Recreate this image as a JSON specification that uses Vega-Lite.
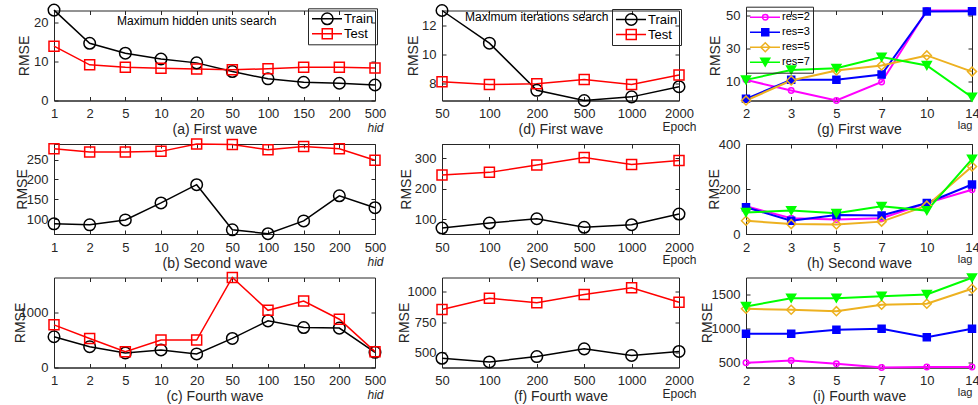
{
"$schema": "https://vega.github.io/schema/vega-lite/v6.json",
"background": "white",
"padding": {"left": 12, "top": 0.5, "right": 0, "bottom": 0},
"columns": 3,
"spacing": {"row": 43.5, "column": 67},
"bounds": "flush",
"resolve": {"scale": {"color": "independent", "stroke": "independent", "shape": "independent", "size": "independent", "fill": "independent"}, "legend": {"color": "independent", "stroke": "independent"}},
"config": {
  "font": "Liberation Sans",
  "view": {"stroke": "#262626", "strokeWidth": 1},
  "axis": {"grid": false, "domainColor": "#262626", "tickColor": "#262626", "labelColor": "#262626", "titleColor": "#262626", "labelFontSize": 13, "titleFontSize": 14, "titleFontWeight": "normal", "labelFont": "Liberation Sans", "titleFont": "Liberation Sans", "tickSize": -4, "labelFlush": false, "labelOverlap": false},
  "axisX": {"labelPadding": 11, "titlePadding": 2, "labelAngle": 0},
  "axisY": {"labelPadding": 10, "titleAngle": 270, "titleBaseline": "alphabetic", "format": "d"},
  "legend": {"orient": "none", "padding": 3, "labelOffset": 1, "labelFont": "Liberation Sans", "labelFontSize": 13, "labelColor": "#000000", "clipHeight": 15, "rowPadding": 0},
  "line": {"strokeWidth": 1.5},
  "point": {"strokeWidth": 1.5, "filled": false, "opacity": 1}
},
"datasets": {
  "a": [
    {"s":"Train","x":1,"y":23.3},{"s":"Train","x":2,"y":14.75},{"s":"Train","x":5,"y":12.2},{"s":"Train","x":10,"y":10.7},{"s":"Train","x":20,"y":9.7},{"s":"Train","x":50,"y":7.46},{"s":"Train","x":100,"y":5.58},{"s":"Train","x":150,"y":4.7},{"s":"Train","x":200,"y":4.45},{"s":"Train","x":500,"y":4.0},
    {"s":"Test","x":1,"y":14.0},{"s":"Test","x":2,"y":9.2},{"s":"Test","x":5,"y":8.6},{"s":"Test","x":10,"y":8.3},{"s":"Test","x":20,"y":8.15},{"s":"Test","x":50,"y":7.9},{"s":"Test","x":100,"y":8.2},{"s":"Test","x":150,"y":8.6},{"s":"Test","x":200,"y":8.6},{"s":"Test","x":500,"y":8.4}
  ],
  "b": [
    {"s":"Train","x":1,"y":88.5},{"s":"Train","x":2,"y":86},{"s":"Train","x":5,"y":98.4},{"s":"Train","x":10,"y":141},{"s":"Train","x":20,"y":186.8},{"s":"Train","x":50,"y":73.6},{"s":"Train","x":100,"y":63.8},{"s":"Train","x":150,"y":95.9},{"s":"Train","x":200,"y":159},{"s":"Train","x":500,"y":129},
    {"s":"Test","x":1,"y":277},{"s":"Test","x":2,"y":269},{"s":"Test","x":5,"y":269},{"s":"Test","x":10,"y":270.5},{"s":"Test","x":20,"y":289},{"s":"Test","x":50,"y":287.6},{"s":"Test","x":100,"y":274.6},{"s":"Test","x":150,"y":282.7},{"s":"Test","x":200,"y":277},{"s":"Test","x":500,"y":248.3}
  ],
  "c": [
    {"s":"Train","x":1,"y":564},{"s":"Train","x":2,"y":382},{"s":"Train","x":5,"y":267},{"s":"Train","x":10,"y":321},{"s":"Train","x":20,"y":249},{"s":"Train","x":50,"y":533},{"s":"Train","x":100,"y":855},{"s":"Train","x":150,"y":733},{"s":"Train","x":200,"y":722},{"s":"Train","x":500,"y":278},
    {"s":"Test","x":1,"y":782},{"s":"Test","x":2,"y":533},{"s":"Test","x":5,"y":291},{"s":"Test","x":10,"y":503},{"s":"Test","x":20,"y":503},{"s":"Test","x":50,"y":1650},{"s":"Test","x":100,"y":1048},{"s":"Test","x":150,"y":1218},{"s":"Test","x":200,"y":885},{"s":"Test","x":500,"y":291}
  ],
  "d": [
    {"s":"Train","x":50,"y":13.05},{"s":"Train","x":100,"y":10.8},{"s":"Train","x":200,"y":7.55},{"s":"Train","x":500,"y":6.85},{"s":"Train","x":1000,"y":7.1},{"s":"Train","x":2000,"y":7.8},
    {"s":"Test","x":50,"y":8.15},{"s":"Test","x":100,"y":7.95},{"s":"Test","x":200,"y":8.0},{"s":"Test","x":500,"y":8.3},{"s":"Test","x":1000,"y":7.95},{"s":"Test","x":2000,"y":8.6}
  ],
  "e": [
    {"s":"Train","x":50,"y":70.5},{"s":"Train","x":100,"y":86.9},{"s":"Train","x":200,"y":101},{"s":"Train","x":500,"y":73},{"s":"Train","x":1000,"y":81.5},{"s":"Train","x":2000,"y":116.4},
    {"s":"Test","x":50,"y":244},{"s":"Test","x":100,"y":253},{"s":"Test","x":200,"y":277},{"s":"Test","x":500,"y":302},{"s":"Test","x":1000,"y":279},{"s":"Test","x":2000,"y":292}
  ],
  "f": [
    {"s":"Train","x":50,"y":455},{"s":"Train","x":100,"y":425},{"s":"Train","x":200,"y":469},{"s":"Train","x":500,"y":532},{"s":"Train","x":1000,"y":478},{"s":"Train","x":2000,"y":511},
    {"s":"Test","x":50,"y":853},{"s":"Test","x":100,"y":945},{"s":"Test","x":200,"y":908},{"s":"Test","x":500,"y":975},{"s":"Test","x":1000,"y":1030},{"s":"Test","x":2000,"y":912}
  ],
  "g": [
    {"s":"res=2","x":2,"y":11},{"s":"res=2","x":3,"y":4.5},{"s":"res=2","x":5,"y":-1.5},{"s":"res=2","x":7,"y":9.7},{"s":"res=2","x":10,"y":53},{"s":"res=2","x":14,"y":53},
    {"s":"res=3","x":2,"y":-0.5},{"s":"res=3","x":3,"y":11},{"s":"res=3","x":5,"y":11},{"s":"res=3","x":7,"y":14.2},{"s":"res=3","x":10,"y":52.4},{"s":"res=3","x":14,"y":52.5},
    {"s":"res=5","x":2,"y":-1.5},{"s":"res=5","x":3,"y":10.6},{"s":"res=5","x":5,"y":16.7},{"s":"res=5","x":7,"y":19.7},{"s":"res=5","x":10,"y":25.8},{"s":"res=5","x":14,"y":16},
    {"s":"res=7","x":2,"y":11},{"s":"res=7","x":3,"y":17},{"s":"res=7","x":5,"y":18},{"s":"res=7","x":7,"y":24.8},{"s":"res=7","x":10,"y":19.7},{"s":"res=7","x":14,"y":0.5}
  ],
  "h": [
    {"s":"res=2","x":2,"y":123},{"s":"res=2","x":3,"y":70},{"s":"res=2","x":5,"y":64},{"s":"res=2","x":7,"y":70},{"s":"res=2","x":10,"y":138},{"s":"res=2","x":14,"y":197},
    {"s":"res=3","x":2,"y":119},{"s":"res=3","x":3,"y":59},{"s":"res=3","x":5,"y":84},{"s":"res=3","x":7,"y":82},{"s":"res=3","x":10,"y":138},{"s":"res=3","x":14,"y":220},
    {"s":"res=5","x":2,"y":59},{"s":"res=5","x":3,"y":44},{"s":"res=5","x":5,"y":42},{"s":"res=5","x":7,"y":55},{"s":"res=5","x":10,"y":126},{"s":"res=5","x":14,"y":300},
    {"s":"res=7","x":2,"y":96},{"s":"res=7","x":3,"y":104},{"s":"res=7","x":5,"y":92},{"s":"res=7","x":7,"y":123},{"s":"res=7","x":10,"y":104},{"s":"res=7","x":14,"y":333}
  ],
  "i": [
    {"s":"res=2","x":2,"y":500},{"s":"res=2","x":3,"y":534},{"s":"res=2","x":5,"y":485},{"s":"res=2","x":7,"y":431},{"s":"res=2","x":10,"y":440},{"s":"res=2","x":14,"y":440},
    {"s":"res=3","x":2,"y":926},{"s":"res=3","x":3,"y":926},{"s":"res=3","x":5,"y":985},{"s":"res=3","x":7,"y":1000},{"s":"res=3","x":10,"y":877},{"s":"res=3","x":14,"y":1000},
    {"s":"res=5","x":2,"y":1294},{"s":"res=5","x":3,"y":1279},{"s":"res=5","x":5,"y":1259},{"s":"res=5","x":7,"y":1353},{"s":"res=5","x":10,"y":1368},{"s":"res=5","x":14,"y":1588},
    {"s":"res=7","x":2,"y":1328},{"s":"res=7","x":3,"y":1450},{"s":"res=7","x":5,"y":1450},{"s":"res=7","x":7,"y":1480},{"s":"res=7","x":10,"y":1505},{"s":"res=7","x":14,"y":1750}
  ]
},
"concat": [
{
 "width": 321, "height": 90, "data": {"name": "a"},
 "resolve": {"axis": {"x": "independent", "y": "independent"}},
 "layer": [
  {"mark": {"type": "line"},
   "encoding": {
    "x": {"field": "x", "type": "ordinal", "scale": {"type": "point", "padding": 0, "domain": [1,2,5,10,20,50,100,150,200,500]}, "axis": {"title": "(a) First wave"}},
    "y": {"field": "y", "type": "quantitative", "scale": {"domain": [0, 23.2], "nice": false, "zero": false}, "axis": {"title": "RMSE", "titleX": -26, "values": [0, 10, 20]}},
    "stroke": {"field": "s", "type": "nominal", "scale": {"domain": ["Train", "Test"], "range": ["#000000", "#ff0000"]},
      "legend": {"title": null, "legendX": 254, "legendY": -2.2, "symbolType": "stroke", "symbolSize": 900, "symbolStrokeWidth": 1.5, "strokeColor": "#262626", "fillColor": "transparent"}}
   }},
  {"mark": {"type": "point"},
   "encoding": {
    "x": {"field": "x", "type": "ordinal", "scale": {"type": "point", "padding": 0, "domain": [1,2,5,10,20,50,100,150,200,500]}, "axis": {"title": "hid", "orient": "bottom", "labels": false, "ticks": false, "domain": false, "titleAnchor": "end", "titleAlign": "center", "titleFontStyle": "italic", "titleFontSize": 12, "titlePadding": 22}},
    "y": {"field": "y", "type": "quantitative", "scale": {"domain": [0, 23.2], "nice": false, "zero": false}, "axis": {"title": null, "orient": "right", "labels": false, "domain": false, "values": [0, 10, 20]}},
    "color": {"field": "s", "type": "nominal", "sort": "descending", "scale": {"range": ["#000000", "#ff0000"]},
      "legend": {"title": null, "legendX": 254, "legendY": -2.2, "symbolSize": 100, "symbolOffset": 9.25, "symbolStrokeWidth": 1.5, "strokeColor": "transparent", "fillColor": "transparent", "labelExpr": "''"}},
    "shape": {"field": "s", "type": "nominal", "sort": "descending", "scale": {"range": ["circle", "square"]}, "legend": null},
    "size": {"field": "s", "type": "nominal", "sort": "descending", "scale": {"type": "ordinal", "range": [133, 100]}, "legend": null}
   }},
  {"data": {"values": [{}]},
   "mark": {"type": "text", "fontSize": 12, "fill": "#000000", "align": "center", "baseline": "middle"},
   "encoding": {
    "x": {"datum": 20, "type": "ordinal", "scale": {"type": "point", "padding": 0, "domain": [1,2,5,10,20,50,100,150,200,500]}, "axis": {"orient": "top", "title": null, "labels": false, "domain": false}},
    "y": {"datum": 20.4, "type": "quantitative", "scale": {"domain": [0, 23.2], "nice": false, "zero": false}, "axis": null},
    "text": {"value": "Maximum hidden units search"}
   }}
 ]
},
{
 "width": 237, "height": 90, "data": {"name": "d"},
 "resolve": {"axis": {"x": "independent", "y": "independent"}},
 "layer": [
  {"mark": {"type": "line"},
   "encoding": {
    "x": {"field": "x", "type": "ordinal", "scale": {"type": "point", "padding": 0, "domain": [50,100,200,500,1000,2000]}, "axis": {"title": "(d) First wave"}},
    "y": {"field": "y", "type": "quantitative", "scale": {"domain": [6.85, 13.05], "nice": false, "zero": false}, "axis": {"title": "RMSE", "titleX": -25, "values": [8, 10, 12]}},
    "stroke": {"field": "s", "type": "nominal", "scale": {"domain": ["Train", "Test"], "range": ["#000000", "#ff0000"]},
      "legend": {"title": null, "legendX": 170, "legendY": -1.5, "symbolType": "stroke", "symbolSize": 900, "symbolStrokeWidth": 1.5, "strokeColor": "#262626", "fillColor": "transparent"}}
   }},
  {"mark": {"type": "point"},
   "encoding": {
    "x": {"field": "x", "type": "ordinal", "scale": {"type": "point", "padding": 0, "domain": [50,100,200,500,1000,2000]}, "axis": {"title": "Epoch", "orient": "bottom", "labels": false, "ticks": false, "domain": false, "titleAnchor": "end", "titleAlign": "center", "titleFontSize": 12, "titlePadding": 20.5}},
    "y": {"field": "y", "type": "quantitative", "scale": {"domain": [6.85, 13.05], "nice": false, "zero": false}, "axis": {"title": null, "orient": "right", "labels": false, "domain": false, "values": [8, 10, 12]}},
    "color": {"field": "s", "type": "nominal", "sort": "descending", "scale": {"range": ["#000000", "#ff0000"]},
      "legend": {"title": null, "legendX": 170, "legendY": -1.5, "symbolSize": 100, "symbolOffset": 9.25, "symbolStrokeWidth": 1.5, "strokeColor": "transparent", "fillColor": "transparent", "labelExpr": "''"}},
    "shape": {"field": "s", "type": "nominal", "sort": "descending", "scale": {"range": ["circle", "square"]}, "legend": null},
    "size": {"field": "s", "type": "nominal", "sort": "descending", "scale": {"type": "ordinal", "range": [133, 100]}, "legend": null}
   }},
  {"data": {"values": [{}]},
   "mark": {"type": "text", "fontSize": 12, "fill": "#000000", "align": "center", "baseline": "middle"},
   "encoding": {
    "x": {"datum": 200, "type": "ordinal", "scale": {"type": "point", "padding": 0, "domain": [50,100,200,500,1000,2000]}, "axis": {"orient": "top", "title": null, "labels": false, "domain": false}},
    "y": {"datum": 12.59, "type": "quantitative", "scale": {"domain": [6.85, 13.05], "nice": false, "zero": false}, "axis": null},
    "text": {"value": "Maximum iterations search"}
   }}
 ]
},
{
 "width": 226, "height": 90, "data": {"name": "g"},
 "resolve": {"axis": {"x": "independent", "y": "independent"}},
 "layer": [
  {"mark": {"type": "line", "strokeWidth": 2},
   "encoding": {
    "x": {"field": "x", "type": "ordinal", "scale": {"type": "point", "padding": 0, "domain": [2,3,5,7,10,14]}, "axis": {"title": "(g) First wave"}},
    "y": {"field": "y", "type": "quantitative", "scale": {"domain": [-1.5, 53], "nice": false, "zero": false}, "axis": {"title": "RMSE", "titleX": -27, "values": [10, 30, 50]}},
    "stroke": {"field": "s", "type": "nominal", "scale": {"domain": ["res=2", "res=3", "res=5", "res=7"], "range": ["#ff00ff", "#0000ff", "#edb120", "#00ff00"]},
      "legend": {"title": null, "legendX": 0, "legendY": -3.8, "symbolType": "stroke", "symbolSize": 900, "symbolStrokeWidth": 2, "strokeColor": "#262626", "fillColor": "transparent", "labelFontSize": 11}}
   }},
  {"mark": {"type": "point"},
   "encoding": {
    "x": {"field": "x", "type": "ordinal", "scale": {"type": "point", "padding": 0, "domain": [2,3,5,7,10,14]}, "axis": {"title": "lag", "orient": "bottom", "labels": false, "ticks": false, "domain": false, "titleAnchor": "end", "titleAlign": "right", "titleFontSize": 11, "titlePadding": 19}},
    "y": {"field": "y", "type": "quantitative", "scale": {"domain": [-1.5, 53], "nice": false, "zero": false}, "axis": {"title": null, "orient": "right", "labels": false, "domain": false, "values": [10, 30, 50]}},
    "color": {"field": "s", "type": "nominal", "scale": {"range": ["#ff00ff", "#0000ff", "#edb120", "#00ff00"]},
      "legend": {"title": null, "legendX": 0, "legendY": -3.8, "symbolSize": 50, "symbolOffset": 10.75, "symbolStrokeWidth": 1.5, "strokeColor": "transparent", "fillColor": "transparent", "labelExpr": "''", "labelFontSize": 11}},
    "shape": {"field": "s", "type": "nominal", "scale": {"range": ["circle", "square", "diamond", "triangle-down"]}, "legend": null},
    "size": {"field": "s", "type": "nominal", "scale": {"type": "ordinal", "range": [30, 49, 81, 81]}, "legend": null},
    "fill": {"field": "s", "type": "nominal", "scale": {"range": ["transparent", "#0000ff", "transparent", "#00ff00"]}, "legend": null}
   }},
  {"mark": {"type": "point", "opacity": 0},
   "encoding": {
    "x": {"field": "x", "type": "ordinal", "scale": {"type": "point", "padding": 0, "domain": [2,3,5,7,10,14]}, "axis": {"orient": "top", "title": null, "labels": false, "domain": false}},
    "y": {"field": "y", "type": "quantitative", "scale": {"domain": [-1.5, 53], "nice": false, "zero": false}, "axis": null}
   }}
 ]
},
{
 "width": 321, "height": 90, "data": {"name": "b"},
 "resolve": {"axis": {"x": "independent", "y": "independent"}},
 "layer": [
  {"mark": {"type": "line"},
   "encoding": {
    "x": {"field": "x", "type": "ordinal", "scale": {"type": "point", "padding": 0, "domain": [1,2,5,10,20,50,100,150,200,500]}, "axis": {"title": "(b) Second wave"}},
    "y": {"field": "y", "type": "quantitative", "scale": {"domain": [63, 289], "nice": false, "zero": false}, "axis": {"title": "RMSE", "titleX": -28, "values": [100, 150, 200, 250]}},
    "color": {"field": "s", "type": "nominal", "scale": {"domain": ["Train", "Test"], "range": ["#000000", "#ff0000"]}, "legend": null}
   }},
  {"mark": {"type": "point"},
   "encoding": {
    "x": {"field": "x", "type": "ordinal", "scale": {"type": "point", "padding": 0, "domain": [1,2,5,10,20,50,100,150,200,500]}, "axis": {"title": "hid", "orient": "bottom", "labels": false, "ticks": false, "domain": false, "titleAnchor": "end", "titleAlign": "center", "titleFontStyle": "italic", "titleFontSize": 12, "titlePadding": 22}},
    "y": {"field": "y", "type": "quantitative", "scale": {"domain": [63, 289], "nice": false, "zero": false}, "axis": {"title": null, "orient": "right", "labels": false, "domain": false, "values": [100, 150, 200, 250]}},
    "color": {"field": "s", "type": "nominal", "scale": {"domain": ["Train", "Test"], "range": ["#000000", "#ff0000"]}, "legend": null},
    "shape": {"field": "s", "type": "nominal", "scale": {"range": ["square", "circle"]}, "legend": null},
    "size": {"field": "s", "type": "nominal", "scale": {"type": "ordinal", "range": [100, 133]}, "legend": null}
   }},
  {"mark": {"type": "point", "opacity": 0},
   "encoding": {
    "x": {"field": "x", "type": "ordinal", "scale": {"type": "point", "padding": 0, "domain": [1,2,5,10,20,50,100,150,200,500]}, "axis": {"orient": "top", "title": null, "labels": false, "domain": false}},
    "y": {"field": "y", "type": "quantitative", "scale": {"domain": [63, 289], "nice": false, "zero": false}, "axis": null}
   }}
 ]
},
{
 "width": 237, "height": 90, "data": {"name": "e"},
 "resolve": {"axis": {"x": "independent", "y": "independent"}},
 "layer": [
  {"mark": {"type": "line"},
   "encoding": {
    "x": {"field": "x", "type": "ordinal", "scale": {"type": "point", "padding": 0, "domain": [50,100,200,500,1000,2000]}, "axis": {"title": "(e) Second wave"}},
    "y": {"field": "y", "type": "quantitative", "scale": {"domain": [51, 346], "nice": false, "zero": false}, "axis": {"title": "RMSE", "titleX": -32, "values": [100, 200, 300]}},
    "color": {"field": "s", "type": "nominal", "scale": {"domain": ["Train", "Test"], "range": ["#000000", "#ff0000"]}, "legend": null}
   }},
  {"mark": {"type": "point"},
   "encoding": {
    "x": {"field": "x", "type": "ordinal", "scale": {"type": "point", "padding": 0, "domain": [50,100,200,500,1000,2000]}, "axis": {"title": "Epoch", "orient": "bottom", "labels": false, "ticks": false, "domain": false, "titleAnchor": "end", "titleAlign": "center", "titleFontSize": 12, "titlePadding": 20.5}},
    "y": {"field": "y", "type": "quantitative", "scale": {"domain": [51, 346], "nice": false, "zero": false}, "axis": {"title": null, "orient": "right", "labels": false, "domain": false, "values": [100, 200, 300]}},
    "color": {"field": "s", "type": "nominal", "scale": {"domain": ["Train", "Test"], "range": ["#000000", "#ff0000"]}, "legend": null},
    "shape": {"field": "s", "type": "nominal", "scale": {"range": ["square", "circle"]}, "legend": null},
    "size": {"field": "s", "type": "nominal", "scale": {"type": "ordinal", "range": [100, 133]}, "legend": null}
   }},
  {"mark": {"type": "point", "opacity": 0},
   "encoding": {
    "x": {"field": "x", "type": "ordinal", "scale": {"type": "point", "padding": 0, "domain": [50,100,200,500,1000,2000]}, "axis": {"orient": "top", "title": null, "labels": false, "domain": false}},
    "y": {"field": "y", "type": "quantitative", "scale": {"domain": [51, 346], "nice": false, "zero": false}, "axis": null}
   }}
 ]
},
{
 "width": 226, "height": 90, "data": {"name": "h"},
 "resolve": {"axis": {"x": "independent", "y": "independent"}},
 "layer": [
  {"mark": {"type": "line", "strokeWidth": 2},
   "encoding": {
    "x": {"field": "x", "type": "ordinal", "scale": {"type": "point", "padding": 0, "domain": [2,3,5,7,10,14]}, "axis": {"title": "(h) Second wave"}},
    "y": {"field": "y", "type": "quantitative", "scale": {"domain": [0, 400], "nice": false, "zero": false}, "axis": {"title": "RMSE", "titleX": -28, "values": [0, 200, 400]}},
    "color": {"field": "s", "type": "nominal", "scale": {"domain": ["res=2", "res=3", "res=5", "res=7"], "range": ["#ff00ff", "#0000ff", "#edb120", "#00ff00"]}, "legend": null}
   }},
  {"mark": {"type": "point"},
   "encoding": {
    "x": {"field": "x", "type": "ordinal", "scale": {"type": "point", "padding": 0, "domain": [2,3,5,7,10,14]}, "axis": {"title": "lag", "orient": "bottom", "labels": false, "ticks": false, "domain": false, "titleAnchor": "end", "titleAlign": "right", "titleFontSize": 11, "titlePadding": 19}},
    "y": {"field": "y", "type": "quantitative", "scale": {"domain": [0, 400], "nice": false, "zero": false}, "axis": {"title": null, "orient": "right", "labels": false, "domain": false, "values": [0, 200, 400]}},
    "color": {"field": "s", "type": "nominal", "scale": {"domain": ["res=2", "res=3", "res=5", "res=7"], "range": ["#ff00ff", "#0000ff", "#edb120", "#00ff00"]}, "legend": null},
    "shape": {"field": "s", "type": "nominal", "scale": {"range": ["circle", "square", "diamond", "triangle-down"]}, "legend": null},
    "size": {"field": "s", "type": "nominal", "scale": {"type": "ordinal", "range": [30, 49, 81, 81]}, "legend": null},
    "fill": {"field": "s", "type": "nominal", "scale": {"range": ["transparent", "#0000ff", "transparent", "#00ff00"]}, "legend": null}
   }},
  {"mark": {"type": "point", "opacity": 0},
   "encoding": {
    "x": {"field": "x", "type": "ordinal", "scale": {"type": "point", "padding": 0, "domain": [2,3,5,7,10,14]}, "axis": {"orient": "top", "title": null, "labels": false, "domain": false}},
    "y": {"field": "y", "type": "quantitative", "scale": {"domain": [0, 400], "nice": false, "zero": false}, "axis": null}
   }}
 ]
},
{
 "width": 321, "height": 90, "data": {"name": "c"},
 "resolve": {"axis": {"x": "independent", "y": "independent"}},
 "layer": [
  {"mark": {"type": "line"},
   "encoding": {
    "x": {"field": "x", "type": "ordinal", "scale": {"type": "point", "padding": 0, "domain": [1,2,5,10,20,50,100,150,200,500]}, "axis": {"title": "(c) Fourth wave"}},
    "y": {"field": "y", "type": "quantitative", "scale": {"domain": [0, 1650], "nice": false, "zero": false}, "axis": {"title": "RMSE", "titleX": -30, "values": [0, 1000]}},
    "color": {"field": "s", "type": "nominal", "scale": {"domain": ["Train", "Test"], "range": ["#000000", "#ff0000"]}, "legend": null}
   }},
  {"mark": {"type": "point"},
   "encoding": {
    "x": {"field": "x", "type": "ordinal", "scale": {"type": "point", "padding": 0, "domain": [1,2,5,10,20,50,100,150,200,500]}, "axis": {"title": "hid", "orient": "bottom", "labels": false, "ticks": false, "domain": false, "titleAnchor": "end", "titleAlign": "center", "titleFontStyle": "italic", "titleFontSize": 12, "titlePadding": 22}},
    "y": {"field": "y", "type": "quantitative", "scale": {"domain": [0, 1650], "nice": false, "zero": false}, "axis": {"title": null, "orient": "right", "labels": false, "domain": false, "values": [0, 1000]}},
    "color": {"field": "s", "type": "nominal", "scale": {"domain": ["Train", "Test"], "range": ["#000000", "#ff0000"]}, "legend": null},
    "shape": {"field": "s", "type": "nominal", "scale": {"range": ["square", "circle"]}, "legend": null},
    "size": {"field": "s", "type": "nominal", "scale": {"type": "ordinal", "range": [100, 133]}, "legend": null}
   }},
  {"mark": {"type": "point", "opacity": 0},
   "encoding": {
    "x": {"field": "x", "type": "ordinal", "scale": {"type": "point", "padding": 0, "domain": [1,2,5,10,20,50,100,150,200,500]}, "axis": {"orient": "top", "title": null, "labels": false, "domain": false}},
    "y": {"field": "y", "type": "quantitative", "scale": {"domain": [0, 1650], "nice": false, "zero": false}, "axis": null}
   }}
 ]
},
{
 "width": 237, "height": 90, "data": {"name": "f"},
 "resolve": {"axis": {"x": "independent", "y": "independent"}},
 "layer": [
  {"mark": {"type": "line"},
   "encoding": {
    "x": {"field": "x", "type": "ordinal", "scale": {"type": "point", "padding": 0, "domain": [50,100,200,500,1000,2000]}, "axis": {"title": "(f) Fourth wave"}},
    "y": {"field": "y", "type": "quantitative", "scale": {"domain": [380, 1114], "nice": false, "zero": false}, "axis": {"title": "RMSE", "titleX": -34, "values": [500, 750, 1000]}},
    "color": {"field": "s", "type": "nominal", "scale": {"domain": ["Train", "Test"], "range": ["#000000", "#ff0000"]}, "legend": null}
   }},
  {"mark": {"type": "point"},
   "encoding": {
    "x": {"field": "x", "type": "ordinal", "scale": {"type": "point", "padding": 0, "domain": [50,100,200,500,1000,2000]}, "axis": {"title": "Epoch", "orient": "bottom", "labels": false, "ticks": false, "domain": false, "titleAnchor": "end", "titleAlign": "center", "titleFontSize": 12, "titlePadding": 20.5}},
    "y": {"field": "y", "type": "quantitative", "scale": {"domain": [380, 1114], "nice": false, "zero": false}, "axis": {"title": null, "orient": "right", "labels": false, "domain": false, "values": [500, 750, 1000]}},
    "color": {"field": "s", "type": "nominal", "scale": {"domain": ["Train", "Test"], "range": ["#000000", "#ff0000"]}, "legend": null},
    "shape": {"field": "s", "type": "nominal", "scale": {"range": ["square", "circle"]}, "legend": null},
    "size": {"field": "s", "type": "nominal", "scale": {"type": "ordinal", "range": [100, 133]}, "legend": null}
   }},
  {"mark": {"type": "point", "opacity": 0},
   "encoding": {
    "x": {"field": "x", "type": "ordinal", "scale": {"type": "point", "padding": 0, "domain": [50,100,200,500,1000,2000]}, "axis": {"orient": "top", "title": null, "labels": false, "domain": false}},
    "y": {"field": "y", "type": "quantitative", "scale": {"domain": [380, 1114], "nice": false, "zero": false}, "axis": null}
   }}
 ]
},
{
 "width": 226, "height": 90, "data": {"name": "i"},
 "resolve": {"axis": {"x": "independent", "y": "independent"}},
 "layer": [
  {"mark": {"type": "line", "strokeWidth": 2},
   "encoding": {
    "x": {"field": "x", "type": "ordinal", "scale": {"type": "point", "padding": 0, "domain": [2,3,5,7,10,14]}, "axis": {"title": "(i) Fourth wave"}},
    "y": {"field": "y", "type": "quantitative", "scale": {"domain": [431, 1754], "nice": false, "zero": false}, "axis": {"title": "RMSE", "titleX": -35, "values": [500, 1000, 1500]}},
    "color": {"field": "s", "type": "nominal", "scale": {"domain": ["res=2", "res=3", "res=5", "res=7"], "range": ["#ff00ff", "#0000ff", "#edb120", "#00ff00"]}, "legend": null}
   }},
  {"mark": {"type": "point"},
   "encoding": {
    "x": {"field": "x", "type": "ordinal", "scale": {"type": "point", "padding": 0, "domain": [2,3,5,7,10,14]}, "axis": {"title": "lag", "orient": "bottom", "labels": false, "ticks": false, "domain": false, "titleAnchor": "end", "titleAlign": "right", "titleFontSize": 11, "titlePadding": 19}},
    "y": {"field": "y", "type": "quantitative", "scale": {"domain": [431, 1754], "nice": false, "zero": false}, "axis": {"title": null, "orient": "right", "labels": false, "domain": false, "values": [500, 1000, 1500]}},
    "color": {"field": "s", "type": "nominal", "scale": {"domain": ["res=2", "res=3", "res=5", "res=7"], "range": ["#ff00ff", "#0000ff", "#edb120", "#00ff00"]}, "legend": null},
    "shape": {"field": "s", "type": "nominal", "scale": {"range": ["circle", "square", "diamond", "triangle-down"]}, "legend": null},
    "size": {"field": "s", "type": "nominal", "scale": {"type": "ordinal", "range": [30, 49, 81, 81]}, "legend": null},
    "fill": {"field": "s", "type": "nominal", "scale": {"range": ["transparent", "#0000ff", "transparent", "#00ff00"]}, "legend": null}
   }},
  {"mark": {"type": "point", "opacity": 0},
   "encoding": {
    "x": {"field": "x", "type": "ordinal", "scale": {"type": "point", "padding": 0, "domain": [2,3,5,7,10,14]}, "axis": {"orient": "top", "title": null, "labels": false, "domain": false}},
    "y": {"field": "y", "type": "quantitative", "scale": {"domain": [431, 1754], "nice": false, "zero": false}, "axis": null}
   }}
 ]
}
]
}
